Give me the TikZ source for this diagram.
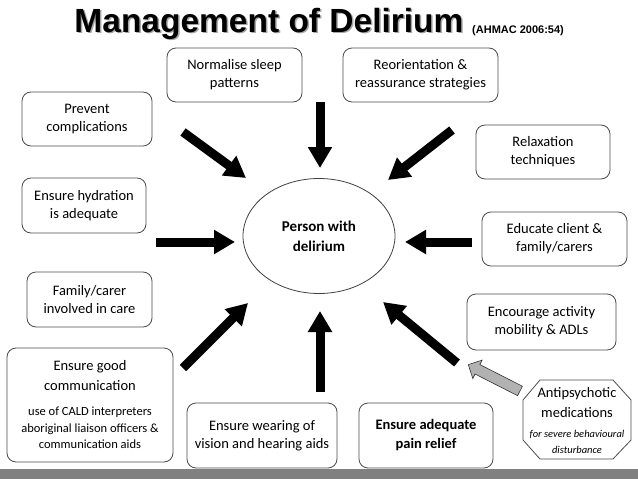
\documentclass[tikz,border=0pt]{standalone}
\usepackage{fontspec}
\setmainfont{Carlito}
\newfontfamily\titlefont{Liberation Sans}
\usetikzlibrary{arrows.meta,shapes.arrows,shapes.geometric}
\begin{document}
\begin{tikzpicture}[x=1pt,y=-1pt,
  box/.style={draw=black!70, line width=0.8pt, rounded corners=9pt, align=center,
    inner sep=0pt, font=\fontsize{14.5}{18}\selectfont},
  bigarrow/.style={line width=9pt, -{Triangle[length=21pt,width=23pt]}},
  grayarrow/.style={single arrow, draw=black!80, line width=0.6pt, fill=black!30,
    inner sep=5pt, single arrow head extend=5pt, minimum height=58pt}
]
\useasboundingbox (0,0) rectangle (638,479);
\fill[white] (0,0) rectangle (638,479);

% title
\node[anchor=base, text=black!35, inner sep=0] at (270.5,33.5) {\titlefont\bfseries\fontsize{33.5}{36}\selectfont Management of Delirium};
\node[anchor=base, inner sep=0] (title) at (269,32) {\titlefont\bfseries\fontsize{33.5}{36}\selectfont Management of Delirium};
\node[anchor=base west, inner sep=0] (ref) at (472,33) {\titlefont\bfseries\fontsize{11}{13}\selectfont (AHMAC 2006:54)};

% centre
\node[draw=black!75, line width=0.8pt, ellipse, minimum width=152pt, minimum height=115pt,
  inner sep=0, align=center, font=\bfseries\fontsize{15}{20}\selectfont] (person) at (319,236) {Person with\\delirium};

% boxes
\node[box, minimum width=135pt, minimum height=54pt] (sleep) at (234.5,75) {Normalise sleep\\patterns};
\node[box, minimum width=155pt, minimum height=54pt] (reor) at (420.5,75) {Reorientation \&\\reassurance strategies};
\node[box, minimum width=130pt, minimum height=54pt] (prev) at (87,119) {Prevent\\complications};
\node[box, minimum width=134pt, minimum height=54pt] (relax) at (543,152) {Relaxation\\techniques};
\node[box, minimum width=124pt, minimum height=55pt] (hyd) at (84,205.5) {Ensure hydration\\is adequate};
\node[box, minimum width=145pt, minimum height=54pt] (edu) at (554.5,239) {Educate client \&\\family/carers};
\node[box, minimum width=125pt, minimum height=55pt] (fam) at (89.5,299.5) {Family/carer\\involved in care};
\node[box, minimum width=149pt, minimum height=56pt] (enc) at (541.5,322) {Encourage activity\\mobility \& ADLs};
\node[box, minimum width=166pt, minimum height=114pt, font=\fontsize{14.5}{17}\selectfont] (comm) at (90,405)
  {Ensure good\\[3pt]communication\\[8pt]{\fontsize{12.5}{15}\selectfont use of CALD interpreters}\\{\fontsize{12.5}{15}\selectfont aboriginal liaison officers \&}\\[-1pt]{\fontsize{12.5}{15}\selectfont communication aids}};
\node[box, minimum width=150pt, minimum height=65pt] (wear) at (262,435.5) {Ensure wearing of\\vision and hearing aids};
\node[box, minimum width=134pt, minimum height=65pt, font=\bfseries\fontsize{14.5}{19}\selectfont] (pain) at (426,435.5) {Ensure adequate\\pain relief};

% antipsychotic octagon
\draw[black!70, line width=0.8pt, fill=white] (540,380) -- (613,380) -- (631,400) -- (631,440) -- (613,459) -- (540,459) -- (523,440) -- (523,400) -- cycle;
\node[align=center, inner sep=0, font=\fontsize{14.5}{20}\selectfont] (anti) at (577,421)
  {Antipsychotic\\medications\\{\itshape\fontsize{10.5}{12}\selectfont for severe behavioural}\\[-4pt]{\itshape\fontsize{10.5}{12}\selectfont disturbance}};

% arrow end points
\coordinate (s1) at (320,102);  \coordinate (e1) at (320,168);
\coordinate (s2) at (452,130);  \coordinate (e2) at (388,180);
\coordinate (s3) at (183,132);  \coordinate (e3) at (246,178);
\coordinate (s4) at (156,242);  \coordinate (e4) at (235,242);
\coordinate (s5) at (472,242);  \coordinate (e5) at (405,242);
\coordinate (s6) at (183,368);  \coordinate (e6) at (248,303);
\coordinate (s7) at (457,363);  \coordinate (e7) at (383,302);
\coordinate (s8) at (320,392);  \coordinate (e8) at (320,311);

\foreach \i in {1,...,8} { \draw[bigarrow] (s\i) -- (e\i); }

% gray arrow
\node[grayarrow, rotate=153] (garrow) at (496.5,379) {};

% bottom bar
\fill[black!50] (0,469) rectangle (638,479);
\end{tikzpicture}
\end{document}
